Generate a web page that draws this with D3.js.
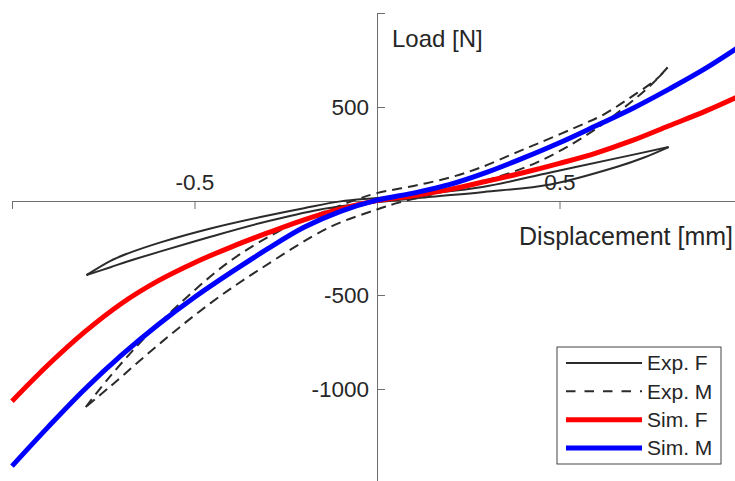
<!DOCTYPE html>
<html>
<head>
<meta charset="utf-8">
<script src="https://cdn.jsdelivr.net/npm/d3@7"></script>
<style>
  html, body { margin: 0; padding: 0; background: #fff; }
  svg { display: block; font-family: "Liberation Sans", Arial, Helvetica, sans-serif; }
</style>
</head>
<body>
<div id="chart"></div>
<script>
// displacement [mm] / load [N]
var simX = [-1.0, -0.9, -0.8, -0.7, -0.6, -0.5, -0.4, -0.3, -0.2, -0.1, 0,
            0.1, 0.2, 0.3, 0.4, 0.5, 0.6, 0.7, 0.8, 0.9, 1.0];
var simF = [-1065, -870, -695, -545, -425, -328, -245, -170, -100, -42, 2,
            28, 62, 105, 150, 200, 255, 322, 400, 478, 565];
var simM = [-1410, -1200, -1000, -820, -658, -512, -380, -255, -140, -55, 5,
            42, 88, 152, 228, 310, 400, 492, 595, 705, 830];

// experimental loops: one branch tip to tip, then back
var expFUp = [[-0.796, -394], [-0.73, -318], [-0.684, -280], [-0.593, -220], [-0.456, -146],
              [-0.319, -85], [-0.2, -38], [-0.1, -2], [0, 16], [0.15, 42], [0.293, 76],
              [0.475, 152], [0.658, 228], [0.799, 287]];
var expFDown = [[0.799, 287], [0.73, 230], [0.658, 182], [0.475, 88], [0.293, 48], [0.15, 22],
                [0, -6], [-0.155, -45], [-0.319, -117], [-0.456, -190], [-0.593, -268],
                [-0.684, -322], [-0.73, -352], [-0.796, -394]];
var expMUp = [[-0.798, -1096], [-0.73, -930], [-0.64, -735], [-0.548, -560], [-0.41, -330],
              [-0.273, -165], [-0.155, -65], [-0.06, 5], [0, 42], [0.1, 80], [0.2, 125],
              [0.284, 178], [0.384, 260], [0.44, 305], [0.566, 410], [0.621, 460],
              [0.713, 575], [0.767, 650], [0.796, 710]];
var expMDown = [[0.796, 710], [0.759, 633], [0.713, 553], [0.658, 468], [0.603, 388],
                [0.53, 298], [0.44, 207], [0.347, 138], [0.25, 85], [0.15, 35], [0.06, -8],
                [0, -45], [-0.13, -140], [-0.32, -362], [-0.456, -543], [-0.593, -755],
                [-0.73, -985], [-0.798, -1096]];

var xTicks = [-1, -0.5, 0, 0.5, 1];
var xLabeled = [-0.5, 0.5];
var yTicks = [-1500, -1000, -500, 0, 500, 1000];
var yLabeled = [-1000, -500, 500];
var legendLabels = ["Exp. F", "Exp. M", "Sim. F", "Sim. M"];

var width = 735, height = 481;

var x = d3.scaleLinear().domain([-1, 1]).range([12, 742]);
var y = d3.scaleLinear().domain([-1500, 1000]).range([483, 13]);

var svg = d3.select("#chart").append("svg")
  .attr("width", width)
  .attr("height", height);

var axisColor = "#6e6e6e";
var textColor = "#262626";

// axes cross at the origin
var xAxis = svg.append("g")
  .attr("transform", "translate(0," + y(0) + ")")
  .call(d3.axisTop(x)
    .tickValues(xTicks)
    .tickSizeInner(-8)
    .tickSizeOuter(0)
    .tickPadding(11)
    .tickFormat(function (d) { return xLabeled.indexOf(d) >= 0 ? String(d) : ""; }));

var yAxis = svg.append("g")
  .attr("transform", "translate(" + x(0) + ",0)")
  .call(d3.axisLeft(y)
    .tickValues(yTicks)
    .tickSizeInner(-8)
    .tickSizeOuter(0)
    .tickPadding(8)
    .tickFormat(function (d) { return yLabeled.indexOf(d) >= 0 ? String(d) : ""; }));

[xAxis, yAxis].forEach(function (g) {
  g.select(".domain").attr("stroke", axisColor);
  g.selectAll(".tick line").attr("stroke", axisColor);
  g.selectAll(".tick text")
    .attr("fill", textColor)
    .style("font-size", "22.5px")
    .style("font-family", "'Liberation Sans', Arial, sans-serif");
});

svg.append("text")
  .attr("x", 392).attr("y", 47)
  .attr("fill", textColor)
  .style("font-size", "24px")
  .text("Load [N]");

svg.append("text")
  .attr("x", 733).attr("y", 245)
  .attr("text-anchor", "end")
  .attr("fill", textColor)
  .style("font-size", "25px")
  .text("Displacement [mm]");

// curves
var line = d3.line()
  .x(function (d) { return x(d[0]); })
  .y(function (d) { return y(d[1]); })
  .curve(d3.curveCatmullRom.alpha(0.5));

var plot = svg.append("g");

function drawLoop(up, down, dash) {
  [up, down].forEach(function (pts) {
    plot.append("path")
      .attr("d", line(pts))
      .attr("fill", "none")
      .attr("stroke", "#2b2b2b")
      .attr("stroke-width", 2)
      .attr("stroke-dasharray", dash)
      .attr("stroke-linejoin", "round");
  });
}

drawLoop(expFUp, expFDown, null);
drawLoop(expMUp, expMDown, "10,6");

function drawSim(vals, color) {
  plot.append("path")
    .attr("d", line(simX.map(function (v, i) { return [v, vals[i]]; })))
    .attr("fill", "none")
    .attr("stroke", color)
    .attr("stroke-width", 5)
    .attr("stroke-linejoin", "round");
}

drawSim(simF, "#ff0000");
drawSim(simM, "#0000ff");

// legend
var legendStyles = [
  { color: "#2b2b2b", width: 2, dash: null },
  { color: "#2b2b2b", width: 2, dash: "9.5,9" },
  { color: "#ff0000", width: 5, dash: null },
  { color: "#0000ff", width: 5, dash: null }
];

var legend = svg.append("g").attr("transform", "translate(557,347)");
legend.append("rect")
  .attr("width", 164).attr("height", 117)
  .attr("fill", "#fff")
  .attr("stroke", "#444")
  .attr("stroke-width", 1);

var rowY = d3.scalePoint().domain(legendLabels).range([16, 101]);

legendLabels.forEach(function (lab, i) {
  var st = legendStyles[i];
  legend.append("line")
    .attr("x1", 9).attr("x2", 85)
    .attr("y1", rowY(lab)).attr("y2", rowY(lab))
    .attr("stroke", st.color)
    .attr("stroke-width", st.width)
    .attr("stroke-dasharray", st.dash);
  legend.append("text")
    .attr("x", 90).attr("y", rowY(lab))
    .attr("dy", "0.35em")
    .attr("fill", textColor)
    .style("font-size", "21px")
    .text(lab);
});
</script>
</body>
</html>
